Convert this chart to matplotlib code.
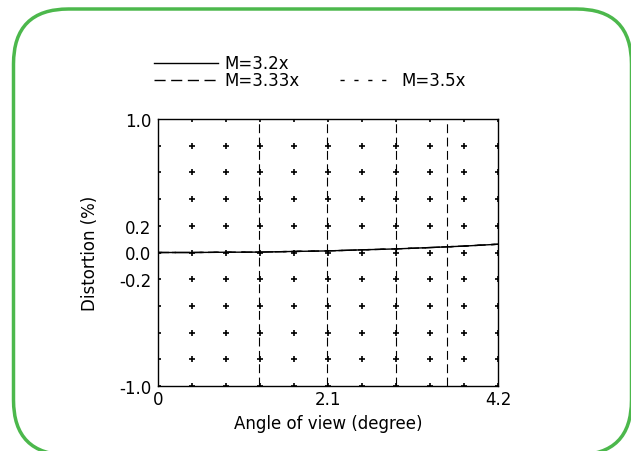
import matplotlib
matplotlib.use("Agg")
import matplotlib.pyplot as plt
from matplotlib.patches import FancyBboxPatch
from matplotlib.lines import Line2D
import numpy as np

# data
angle = [0.0, 0.42, 0.84, 1.26, 1.68, 2.1, 2.52, 2.94, 3.36, 3.78, 4.2]
dist_32 = [0.0, 0.0, 0.002, 0.003, 0.008, 0.012, 0.02, 0.027, 0.037, 0.048, 0.062]
dist_333 = [0.0, 0.0, 0.002, 0.003, 0.008, 0.012, 0.02, 0.027, 0.037, 0.048, 0.062]
dist_35 = [0.0, 0.0, 0.002, 0.003, 0.008, 0.012, 0.02, 0.027, 0.037, 0.048, 0.062]
series_labels = ["M=3.2x", "M=3.33x", "M=3.5x"]
marker_lines = [1.25, 2.09, 2.94, 3.57]
x_ticks = [0, 2.1, 4.2]
x_tick_labels = ["0", "2.1", "4.2"]
y_ticks = [1.0, 0.2, 0.0, -0.2, -1.0]
y_tick_labels = ["1.0", "0.2", "0.0", "-0.2", "-1.0"]

fig = plt.figure(figsize=(6.31, 4.52), dpi=100)

# rounded green frame (in inches so the corners stay round)
frame = FancyBboxPatch((0.135, -0.04), 6.18, 4.46,
                       boxstyle="round,pad=0,rounding_size=0.55",
                       transform=fig.dpi_scale_trans, facecolor="none",
                       edgecolor="#4cb84c", linewidth=2.5, zorder=-1)
fig.patches.append(frame)

ax = fig.add_axes([158 / 631, 1 - 387 / 452, 340 / 631, 267 / 452])
ax.set_facecolor("none")
ax.set_xlim(0, 4.2)
ax.set_ylim(-1.0, 1.0)

# cross grid
gx, gy = np.meshgrid(np.linspace(0, 4.2, 11), np.linspace(-1, 1, 11))
ax.plot(gx.ravel(), gy.ravel(), "+", color="black", markersize=5, markeredgewidth=1.2)

long_dash = (8, 4)
short_dash = (3, 7)
for xv in marker_lines:
    ax.axvline(xv, color="black", linewidth=0.8, dashes=long_dash)

ax.plot(angle, dist_32, color="black", linewidth=1.0)
ax.plot(angle, dist_333, color="black", linewidth=1.0, dashes=long_dash)
ax.plot(angle, dist_35, color="black", linewidth=1.0, dashes=short_dash)

ax.set_xticks(x_ticks)
ax.set_xticklabels(x_tick_labels)
ax.set_yticks(y_ticks)
ax.set_yticklabels(y_tick_labels)
ax.tick_params(length=0, labelsize=12)
ax.tick_params(axis="y", pad=5)
ax.tick_params(axis="x", pad=3)
for s in ax.spines.values():
    s.set_linewidth(1.0)
ax.set_xlabel("Angle of view (degree)", fontsize=12, labelpad=4)
ax.set_ylabel("Distortion (%)", fontsize=12, labelpad=14)

# legend drawn by hand above the plot
styles = [dict(), dict(dashes=long_dash), dict(dashes=short_dash)]
positions = [(154, 64, 218), (154, 81, 218), (340, 81, 395)]
for lab, st, (x0, y0, x1) in zip(series_labels, styles, positions):
    fig.add_artist(Line2D([x0 / 631, x1 / 631], [1 - y0 / 452, 1 - y0 / 452],
                          color="black", linewidth=1.0, **st))
    fig.text((x1 + 6) / 631, 1 - y0 / 452, lab, fontsize=12, va="center", ha="left")

fig.savefig("out.png", dpi=100)
